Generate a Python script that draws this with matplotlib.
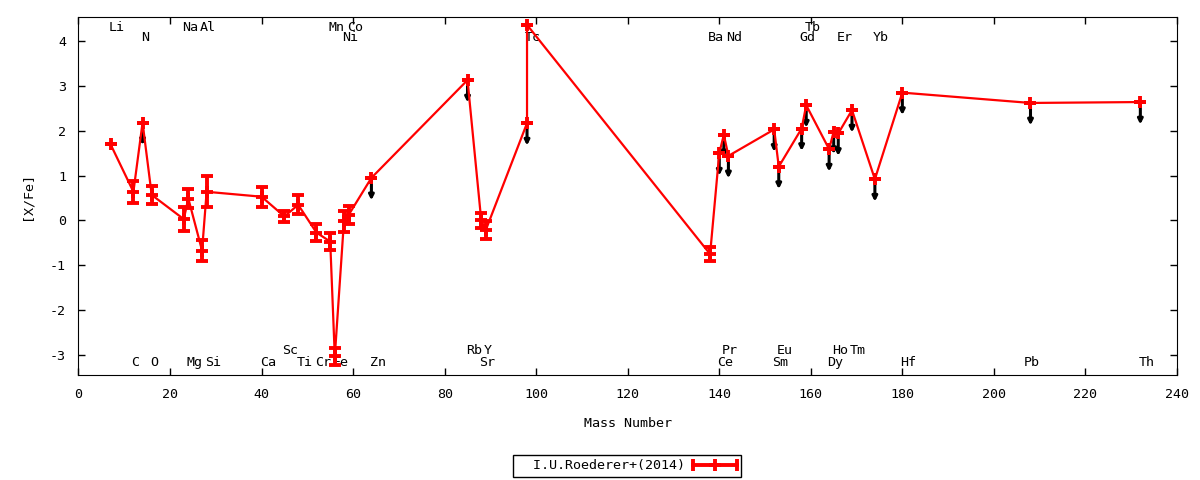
import numpy as np
import matplotlib
matplotlib.use('Agg')
from matplotlib import pyplot as plt
from matplotlib.lines import Line2D
from matplotlib.legend_handler import HandlerBase

#=======================================
# Data
#=======================================
elements = ['Li', 'C', 'N', 'O', 'Na', 'Mg', 'Al', 'Si', 'Ca', 'Sc', 'Ti', 'Cr', 'Mn', 'Fe',
            'Ni', 'Co', 'Zn', 'Rb', 'Sr', 'Y', 'Tc', 'Tc', 'Ba', 'Ce', 'Pr', 'Nd', 'Sm', 'Eu',
            'Gd', 'Tb', 'Dy', 'Ho', 'Er', 'Tm', 'Yb', 'Hf', 'Pb', 'Th']
mass = [7, 12, 14, 16, 23, 24, 27, 28, 40, 45, 48, 52, 55, 56,
        58, 59, 64, 85, 88, 89, 98, 98, 138, 140, 141, 142, 152, 153,
        158, 159, 164, 165, 166, 169, 174, 180, 208, 232]
xfe = [1.70, 0.64, 2.18, 0.57, 0.03, 0.49, -0.67, 0.64, 0.53, 0.09, 0.35, -0.27, -0.47, -3.03,
       -0.02, 0.12, 0.95, 3.13, 0.00, -0.21, 2.17, 4.36, -0.75, 1.50, 1.91, 1.44, 2.03, 1.20,
       2.05, 2.57, 1.59, 1.98, 1.94, 2.46, 0.92, 2.85, 2.62, 2.64]
err = [0, 0.25, 0, 0.20, 0.27, 0.22, 0.24, 0.35, 0.22, 0.13, 0.21, 0.19, 0.19, 0.19,
       0.23, 0.20, 0, 0, 0.17, 0.20, 0, 0, 0.15, 0, 0, 0, 0, 0,
       0, 0, 0, 0, 0, 0, 0, 0, 0, 0]
upper = [0, 0, 1, 0, 0, 0, 0, 0, 0, 0, 0, 0, 0, 0,
         0, 0, 1, 1, 0, 0, 1, 0, 0, 1, 1, 1, 1, 1,
         1, 1, 1, 1, 1, 1, 1, 1, 1, 1]

# element name labels: x position (mass) and row
lab_names = ['Li', 'Na', 'Al', 'Mn', 'Co', 'Tb',
             'N', 'Ni', 'Tc', 'Ba', 'Nd', 'Gd', 'Er', 'Yb',
             'Sc', 'Rb', 'Y', 'Pr', 'Eu', 'Ho', 'Tm',
             'C', 'O', 'Mg', 'Si', 'Ca', 'Ti', 'Cr', 'Fe', 'Zn', 'Sr', 'Ce', 'Sm', 'Dy', 'Hf', 'Pb', 'Th']
lab_x = [7, 23, 27, 55, 59, 159,
         14, 58, 98, 138, 142, 158, 166, 174,
         45, 85, 89, 141, 153, 165, 169,
         12, 16, 24, 28, 40, 48, 52, 56, 64, 88, 140, 152, 164, 180, 207, 232]
lab_row = [0]*6 + [1]*8 + [2]*7 + [3]*16
row_y = [4.30, 4.08, -2.89, -3.17]

series_name = 'I.U.Roederer+(2014)'

#=======================================
# Plot
#=======================================
plt.rcParams['font.family'] = ['DejaVu Sans Mono']
plt.rcParams['font.size'] = 9.6
plt.rcParams['axes.unicode_minus'] = False

fig = plt.figure(figsize=(12, 4.8), dpi=100)
ax = fig.add_axes([0.0654, 0.21875, 0.9154, 0.74585])

m = np.array(mass, dtype=float)
v = np.array(xfe)
e = np.array(err)
u = np.array(upper, dtype=bool)

# upper limits -> black arrows
for xi, yi in zip(m[u], v[u]):
    ax.annotate('', xy=(xi, yi - 0.5), xytext=(xi, yi),
                arrowprops=dict(arrowstyle='-|>', color='black', lw=2.2,
                                mutation_scale=7, shrinkA=0, shrinkB=0),
                zorder=2)

ax.errorbar(m, v, yerr=e, color='red', lw=1.6, elinewidth=2.8, capsize=4.3, capthick=2.8,
            marker='+', ms=8.5, mew=2.8, zorder=3)

for name, xl, r in zip(lab_names, lab_x, lab_row):
    ax.text(xl - 0.4, row_y[r], name, ha='left', va='center', fontsize=9.6, zorder=1)

ax.set_xlim(0, 240)
ax.set_ylim(-3.444, 4.536)
ax.set_xticks(np.arange(0, 241, 20))
ax.set_yticks(np.arange(-3, 5, 1))
ax.tick_params(direction='in', top=True, right=True, length=5, width=1, pad=9)
ax.set_xlabel('Mass Number', labelpad=12)
ax.set_ylabel('[X/Fe]', labelpad=12)


class ErrHandler(HandlerBase):
    def create_artists(self, legend, orig, xd, yd, w, h, fontsize, trans):
        y = h / 2 - yd
        x0, x1 = -xd, w - xd
        ln = Line2D([x0, x1], [y, y], color='red', lw=2.8, transform=trans)
        caps = Line2D([x0, x1], [y, y], ls='none', marker='|', ms=8, mew=2.8,
                      color='red', transform=trans)
        mid = Line2D([(x0 + x1) / 2], [y], ls='none', marker='+', ms=8.5, mew=2.8,
                     color='red', transform=trans)
        return [ln, caps, mid]


h = Line2D([0], [0], color='red')
leg = ax.legend([h], ['  ' + series_name], handler_map={Line2D: ErrHandler()},
                loc='upper center', bbox_to_anchor=(0.4995, -0.2235), markerfirst=False,
                fancybox=False, edgecolor='black', framealpha=1, borderpad=0.32,
                handlelength=3.3, handletextpad=0.6, borderaxespad=0)
leg.get_frame().set_linewidth(1)

fig.savefig('out.png', dpi=100)
